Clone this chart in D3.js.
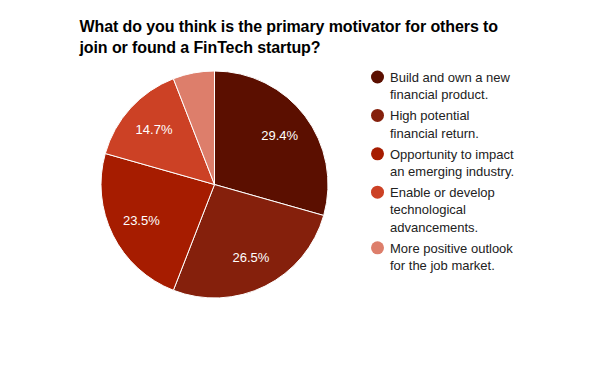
<!DOCTYPE html>
<html>
<head>
<meta charset="utf-8">
<script src="https://cdn.jsdelivr.net/npm/d3@7"></script>
<style>
  body { margin: 0; background: #fff; }
  svg { display: block; font-family: Arial, "Liberation Sans", sans-serif; }
</style>
</head>
<body>
<script>
// chart data
var categories = [
  ["Build and own a new", "financial product."],
  ["High potential", "financial return."],
  ["Opportunity to impact", "an emerging industry."],
  ["Enable or develop", "technological", "advancements."],
  ["More positive outlook", "for the job market."]
];
var values = [29.4, 26.5, 23.5, 14.7, 5.9];
var colors = ["#5b0f00", "#85200c", "#a61c00", "#cc4125", "#dd7e6b"];
var titleLines = ["What do you think is the primary motivator for others to",
                  "join or found a FinTech startup?"];

var w = 599, h = 370;
var cx = 214.5, cy = 184.5, r = 113.5;

var svg = d3.select("body").append("svg")
            .attr("width", w)
            .attr("height", h);

// title
svg.append("text")
   .attr("x", 79.5)
   .attr("y", 32)
   .style("font-size", "16px")
   .style("font-weight", "bold")
   .style("letter-spacing", "-0.1px")
   .attr("fill", "#000")
   .selectAll("tspan")
   .data(titleLines)
   .enter()
   .append("tspan")
   .attr("x", 79.5)
   .attr("dy", function(d, i) { return i == 0 ? 0 : 21; })
   .text(function(d) { return d; });

var pie = d3.pie().sort(null).value(function(d) { return d; });
var arc = d3.arc().innerRadius(0).outerRadius(r);
var labelArc = d3.arc().innerRadius(r * 0.72).outerRadius(r * 0.72);

var g = svg.append("g").attr("transform", "translate(" + cx + "," + cy + ")");

var slices = pie(values);

g.selectAll("path")
 .data(slices)
 .enter()
 .append("path")
 .attr("d", arc)
 .attr("fill", function(d, i) { return colors[i]; })
 .attr("stroke", "#fff")
 .attr("stroke-width", 1);

g.selectAll("text")
 .data(slices.filter(function(d) { return d.data > 10; }))
 .enter()
 .append("text")
 .attr("transform", function(d) { return "translate(" + labelArc.centroid(d) + ")"; })
 .attr("dy", "0.35em")
 .attr("text-anchor", "middle")
 .attr("fill", "#fff")
 .style("font-size", "13px")
 .text(function(d) { return d.data.toFixed(1) + "%"; });

// legend
var legend = svg.append("g");
var ly = 77;
categories.forEach(function(lines, i) {
  var entry = legend.append("g").attr("transform", "translate(0," + ly + ")");
  entry.append("circle")
       .attr("cx", 377.5)
       .attr("cy", 0)
       .attr("r", 6.5)
       .attr("fill", colors[i]);
  entry.append("text")
       .attr("y", 5)
       .style("font-size", "13px")
       .attr("fill", "#222")
       .selectAll("tspan")
       .data(lines)
       .enter()
       .append("tspan")
       .attr("x", 390)
       .attr("dy", function(d, j) { return j == 0 ? 0 : 17.2; })
       .text(function(d) { return d; });
  ly += lines.length * 17.2 + 4;
});
</script>
</body>
</html>
